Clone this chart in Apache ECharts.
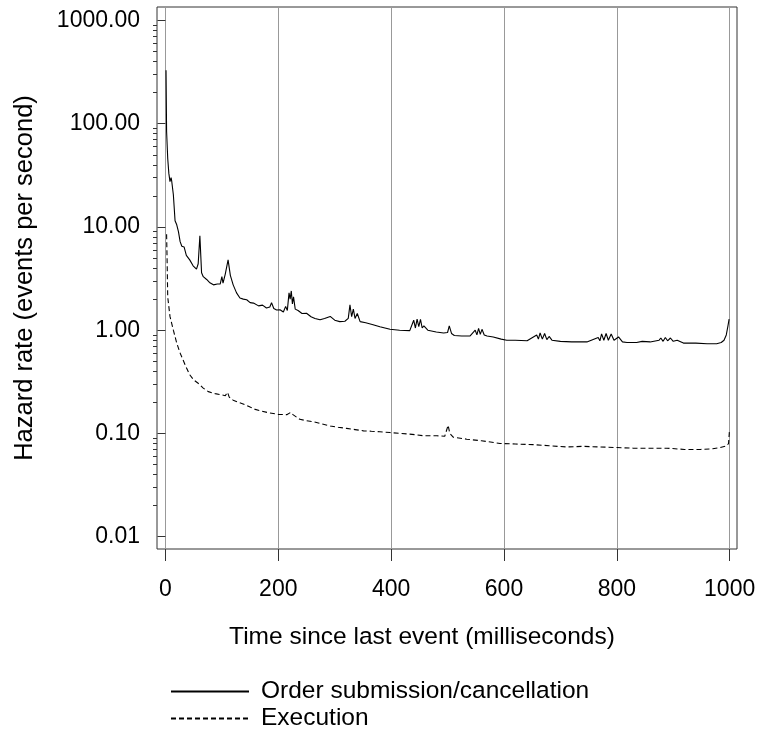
<!DOCTYPE html>
<html>
<head>
<meta charset="utf-8">
<script src="https://cdn.jsdelivr.net/npm/echarts@6/dist/echarts.min.js"></script>
<style>
  html, body { margin: 0; padding: 0; background: #fff; }
  #main { width: 761px; height: 738px; }
</style>
</head>
<body>
<div id="main"></div>
<script>
// 数据：估计值
const xTicks = [0, 200, 400, 600, 800, 1000];
const yTicks = [0.01, 0.1, 1, 10, 100, 1000];
const yMinorTicks = [
  0.02, 0.03, 0.04, 0.05, 0.06, 0.07, 0.08, 0.09,
  0.2, 0.3, 0.4, 0.5, 0.6, 0.7, 0.8, 0.9,
  2, 3, 4, 5, 6, 7, 8, 9,
  20, 30, 40, 50, 60, 70, 80, 90,
  200, 300, 400, 500, 600, 700, 800, 900
];

// 下单/撤单
const orderTime = [1, 2, 4, 6, 8, 10, 11, 14, 17, 20, 23, 26, 29, 33, 37, 43, 49, 55, 58, 61, 64, 67, 73, 78,
  85, 92, 97, 100, 102, 106, 111, 115, 120, 126, 132, 138, 144, 150, 156, 165, 172, 179, 185, 188, 192,
  197, 203, 209, 213, 216, 219, 221, 223, 225, 227, 230, 235, 242, 250, 258, 265, 274, 282, 292, 300,
  309, 318, 324, 327, 330, 333, 336, 340, 345, 355, 368, 380, 398, 415, 433, 440, 443, 446, 449, 452,
  455, 458, 465, 480, 493, 500, 503, 507, 512, 525, 540, 549, 552, 555, 558, 561, 565, 570, 581, 595,
  605, 620, 641, 658, 661, 664, 668, 672, 676, 680, 685, 700, 720, 747, 767, 770, 773, 777, 781, 785,
  790, 795, 803, 810, 818, 835, 845, 859, 875, 878, 882, 886, 890, 895, 900, 907, 918, 940, 960, 977,
  985, 990, 994, 997, 999];
const orderRate = [330, 84, 46, 33, 27.5, 30, 28, 20.5, 11.5, 10.5, 9.0, 7.2, 6.5, 6.4, 5.3, 4.8, 4.2, 3.9, 4.4, 8.2, 3.6, 3.3, 3.1, 2.9,
  2.75, 2.8, 2.8, 3.3, 2.85, 3.5, 4.8, 3.4, 2.75, 2.3, 2.05, 2.0, 1.97, 1.85, 1.83, 1.72, 1.75, 1.64, 1.68, 1.85, 1.62,
  1.57, 1.58, 1.5, 1.7, 1.55, 2.3, 2.0, 2.4, 1.8, 2.1, 1.6, 1.55, 1.45, 1.46, 1.35, 1.3, 1.26, 1.3, 1.36, 1.25,
  1.21, 1.22, 1.3, 1.76, 1.35, 1.6, 1.3, 1.45, 1.21, 1.18, 1.13, 1.08, 1.02, 1.0, 0.99, 1.25, 1.05, 1.28, 1.08, 1.27,
  1.05, 1.1, 1.0, 0.96, 0.94, 0.95, 1.1, 0.93, 0.89, 0.88, 0.88, 1.0, 0.9, 1.04, 0.91, 1.02, 0.9, 0.88, 0.86, 0.82,
  0.8, 0.8, 0.79, 0.9, 0.82, 0.94, 0.82, 0.93, 0.81, 0.87, 0.8, 0.78, 0.77, 0.77, 0.85, 0.79, 0.92, 0.8, 0.93, 0.8,
  0.92, 0.8, 0.86, 0.77, 0.76, 0.76, 0.78, 0.77, 0.8, 0.84, 0.78, 0.85, 0.79, 0.84, 0.78, 0.8, 0.75, 0.75, 0.74, 0.74,
  0.76, 0.8, 0.9, 1.1, 1.28];

// 成交
const execTime = [2, 3, 4, 8, 14, 20, 26, 35, 43, 50, 58, 67, 76, 88, 100, 106, 110, 113, 120, 130, 141, 150, 159,
  170, 182, 200, 215, 222, 226, 238, 250, 262, 277, 292, 306, 321, 336, 351, 365, 380, 398, 416, 428, 445,
  457, 481, 495, 501, 504, 510, 534, 560, 593, 620, 652, 680, 711, 740, 770, 800, 829, 860, 889, 920, 948,
  970, 983, 995, 998, 999.5];
const execRate = [8.5, 4.5, 2.1, 1.36, 1.0, 0.75, 0.6, 0.46, 0.37, 0.33, 0.306, 0.275, 0.254, 0.243, 0.236, 0.232, 0.25, 0.225, 0.21, 0.2, 0.19, 0.18, 0.171,
  0.165, 0.159, 0.153, 0.152, 0.16, 0.152, 0.137, 0.133, 0.13, 0.124, 0.118, 0.115, 0.112, 0.109, 0.106, 0.105, 0.104, 0.102, 0.1, 0.099, 0.097,
  0.095, 0.095, 0.094, 0.12, 0.1, 0.092, 0.088, 0.085, 0.08, 0.079, 0.078, 0.076, 0.074, 0.075, 0.074, 0.073, 0.072, 0.072, 0.072, 0.07, 0.07,
  0.071, 0.073, 0.076, 0.08, 0.104];

const seriesNames = ['Order submission/cancellation', 'Execution'];

function zip(xs, ys) {
  return xs.map((x, i) => [x, ys[i]]);
}

const font = "'Liberation Sans', Arial, Helvetica, sans-serif";
const chart = echarts.init(document.getElementById('main'), null, { renderer: 'canvas' });

const option = {
  animation: false,
  backgroundColor: '#fff',
  grid: {
    left: 157, right: 24, top: 7, bottom: 189,
    show: true, borderColor: '#333', borderWidth: 1,
    containLabel: false
  },
  legend: {
    orient: 'vertical',
    left: 165,
    top: 674,
    itemWidth: 78,
    itemHeight: 14,
    itemGap: 2,
    data: seriesNames,
    itemStyle: { opacity: 0 },
    textStyle: { fontFamily: font, fontSize: 24.5, color: '#000', lineHeight: 24, padding: [0, 0, 0, 7] }
  },
  xAxis: {
    type: 'value',
    min: -15,
    max: 1013,
    name: 'Time since last event (milliseconds)',
    nameLocation: 'middle',
    nameGap: 76,
    nameTextStyle: { fontFamily: font, fontSize: 24.5, color: '#000', padding: [0, 50, 0, 0] },
    axisLine: { show: false },
    axisTick: { show: true, length: 12, lineStyle: { color: '#333' }, customValues: xTicks },
    axisLabel: {
      fontFamily: font, fontSize: 23, color: '#000', margin: 29,
      customValues: xTicks,
      formatter: v => String(v)
    },
    splitLine: { show: true, lineStyle: { color: '#999', width: 1 } }
  },
  yAxis: [
    {
      type: 'log',
      min: 0.0076,
      max: 1350,
      name: 'Hazard rate (events per second)',
      nameLocation: 'middle',
      nameGap: 119,
      nameTextStyle: { fontFamily: font, fontSize: 25.5, color: '#000' },
      axisLine: { show: false },
      axisTick: { show: true, length: 8, lineStyle: { color: '#333' }, customValues: yTicks },
      axisLabel: {
        fontFamily: font, fontSize: 23, color: '#000', margin: 17,
        customValues: yTicks,
        formatter: v => Number(v).toFixed(2)
      },
      splitLine: { show: false }
    },
    {
      type: 'log',
      min: 0.0076,
      max: 1350,
      position: 'left',
      axisLine: { show: false },
      axisTick: { show: true, length: 4, lineStyle: { color: '#333' }, customValues: yMinorTicks },
      axisLabel: { show: false },
      splitLine: { show: false }
    }
  ],
  series: [
    {
      name: seriesNames[0],
      type: 'line',
      data: zip(orderTime, orderRate),
      showSymbol: false,
      symbol: 'none',
      lineStyle: { color: '#000', width: 1.1, type: 'solid' },
      itemStyle: { color: '#000' }
    },
    {
      name: seriesNames[1],
      type: 'line',
      data: zip(execTime, execRate),
      showSymbol: false,
      symbol: 'none',
      lineStyle: { color: '#000', width: 1.1, type: [5, 3] },
      itemStyle: { color: '#000' }
    }
  ]
};

chart.setOption(option);
</script>
</body>
</html>
